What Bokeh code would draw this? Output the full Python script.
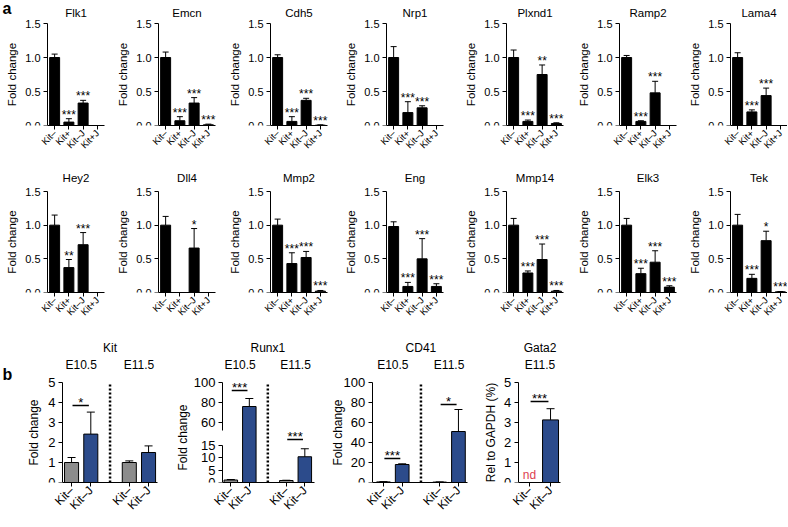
import math
from bokeh.plotting import figure
from bokeh.models import (Range1d, FixedTicker, NumeralTickFormatter, Whisker, TeeHead,
                          ColumnDataSource, LinearAxis)
from bokeh.layouts import row, column
from bokeh.embed import file_html
from bokeh.resources import INLINE
from bokeh.core.properties import value

FONT = "Liberation Sans"

# ---------------- panel a data ----------------
cats_a = ["Kit–", "Kit+", "Kit–J", "Kit+J"]
ticks_a = [0.0, 0.5, 1.0, 1.5]

genes_row1 = ["Flk1", "Emcn", "Cdh5", "Nrp1", "Plxnd1", "Ramp2", "Lama4"]
genes_row2 = ["Hey2", "Dll4", "Mmp2", "Eng", "Mmp14", "Elk3", "Tek"]

flk1_mean = [1.00, 0.05, 0.33, 0.00]
flk1_err = [0.05, 0.05, 0.04, 0.00]
flk1_sig = ["", "***", "***", ""]

emcn_mean = [1.00, 0.07, 0.33, 0.01]
emcn_err = [0.08, 0.06, 0.08, 0.01]
emcn_sig = ["", "***", "***", "***"]

cdh5_mean = [1.00, 0.06, 0.37, 0.005]
cdh5_err = [0.04, 0.07, 0.03, 0.005]
cdh5_sig = ["", "***", "***", "***"]

nrp1_mean = [1.00, 0.19, 0.26, 0.00]
nrp1_err = [0.16, 0.16, 0.03, 0.00]
nrp1_sig = ["", "***", "***", ""]

plxnd1_mean = [1.00, 0.06, 0.75, 0.03]
plxnd1_err = [0.11, 0.02, 0.14, 0.01]
plxnd1_sig = ["", "***", "**", "***"]

ramp2_mean = [1.00, 0.06, 0.48, 0.00]
ramp2_err = [0.03, 0.01, 0.17, 0.00]
ramp2_sig = ["", "***", "***", ""]

lama4_mean = [1.00, 0.20, 0.44, 0.00]
lama4_err = [0.07, 0.03, 0.11, 0.00]
lama4_sig = ["", "***", "***", ""]

hey2_mean = [1.00, 0.37, 0.71, 0.00]
hey2_err = [0.15, 0.12, 0.18, 0.00]
hey2_sig = ["", "**", "***", ""]

dll4_mean = [1.00, 0.00, 0.66, 0.00]
dll4_err = [0.13, 0.00, 0.29, 0.00]
dll4_sig = ["", "", "*", ""]

mmp2_mean = [1.00, 0.43, 0.52, 0.02]
mmp2_err = [0.09, 0.16, 0.09, 0.01]
mmp2_sig = ["", "***", "***", "***"]

eng_mean = [0.98, 0.09, 0.50, 0.09]
eng_err = [0.07, 0.06, 0.30, 0.04]
eng_sig = ["", "***", "***", "***"]

mmp14_mean = [1.00, 0.29, 0.49, 0.02]
mmp14_err = [0.10, 0.03, 0.23, 0.01]
mmp14_sig = ["", "***", "***", "***"]

elk3_mean = [1.00, 0.28, 0.45, 0.08]
elk3_err = [0.10, 0.08, 0.17, 0.02]
elk3_sig = ["", "***", "***", "***"]

tek_mean = [1.00, 0.21, 0.77, 0.01]
tek_err = [0.16, 0.06, 0.14, 0.005]
tek_sig = ["", "***", "*", "***"]

# ---------------- panel b data ----------------
b_groups = ["E10.5", "E11.5"]

kit_x = [1, 2, 4, 5]
kit_labels = ["Kit–", "Kit–J", "Kit–", "Kit–J"]
kit_mean = [1.0, 2.42, 1.0, 1.5]
kit_err = [0.25, 1.1, 0.08, 0.33]
kit_ticks = [0, 1, 2, 3, 4, 5]
kit_sig_left = [1]
kit_sig_right = [2]
kit_sig_y = [3.85]
kit_sig_text = ["*"]

runx1_x = [1, 2, 4, 5]
runx1_labels = ["Kit–", "Kit–J", "Kit–", "Kit–J"]
runx1_mean = [1.0, 76.0, 0.8, 10.3]
runx1_err = [0.2, 8.0, 0.1, 3.2]
runx1_ticks_low = [0, 5, 10, 15]
runx1_ticks_high = [60, 80, 100]
runx1_break = (15, 52)
runx1_sig_left = [1, 4]
runx1_sig_right = [2, 5]
runx1_sig_y = [92.0, 17.2]
runx1_sig_text = ["***", "***"]

cd41_x = [1, 2, 4, 5]
cd41_labels = ["Kit–", "Kit–J", "Kit–", "Kit–J"]
cd41_mean = [0.6, 18.0, 0.4, 51.0]
cd41_err = [0.3, 0.7, 0.2, 22.0]
cd41_ticks = [0, 20, 40, 60, 80, 100]
cd41_sig_left = [1, 4]
cd41_sig_right = [2, 5]
cd41_sig_y = [24.0, 78.0]
cd41_sig_text = ["***", "*"]

gata2_x = [1, 2]
gata2_labels = ["Kit–", "Kit–J"]
gata2_mean = [0.0, 3.13]
gata2_err = [0.0, 0.56]
gata2_nd = ["nd", ""]
gata2_ticks = [0, 1, 2, 3, 4, 5]
gata2_sig_left = [1]
gata2_sig_right = [2]
gata2_sig_y = [4.05]
gata2_sig_text = ["***"]

GRAY = "#8c8c8c"
BLUE = "#2c4b8b"
ND_RED = "#dd4150"


# ---------------- helpers ----------------
def make_fig(width, height, bottom, axis_px, axis_val, px_x, px_y):
    """Frame covers the whole figure except the bottom axis band; the y axis is
    pinned at axis_val so there is room for titles and labels inside the frame."""
    x_start = axis_val - axis_px / px_x
    p = figure(width=width, height=height, title=None,
               x_range=Range1d(x_start, x_start + width / px_x),
               y_range=Range1d(0, (height - bottom) / px_y),
               output_backend="svg", toolbar_location=None,
               min_border_left=0, min_border_right=0, min_border_top=0,
               min_border_bottom=bottom)
    p.outline_line_color = None
    p.xgrid.visible = False
    p.ygrid.visible = False
    p.background_fill_color = "white"
    p.border_fill_color = "white"
    return p, x_start


def style_axis(ax, size):
    ax.major_label_text_font = FONT
    ax.major_label_text_font_size = size
    ax.major_label_text_color = "black"
    ax.major_tick_out = 4
    ax.major_tick_in = 0
    ax.minor_tick_line_color = None
    ax.axis_line_color = "black"
    ax.major_tick_line_color = "black"


def set_x(p, xs, labels, size, bounds):
    ax = p.xaxis[0]
    ax.ticker = FixedTicker(ticks=xs)
    ax.major_label_overrides = {x: l for x, l in zip(xs, labels)}
    ax.major_label_orientation = math.pi / 4
    ax.major_label_standoff = 2
    style_axis(ax, size)
    ax.bounds = bounds


def set_y(ax, ticks, fmt, size, loc, bounds=None):
    ax.ticker = FixedTicker(ticks=ticks)
    ax.formatter = NumeralTickFormatter(format=fmt)
    ax.major_label_standoff = 3
    style_axis(ax, size)
    ax.bounds = bounds if bounds is not None else (ticks[0], ticks[-1])
    ax.fixed_location = loc


def add_whiskers(p, xs, mean, err, head, range_name="default"):
    keep = [i for i in range(len(xs)) if err[i] > 0]
    if not keep:
        return
    src = ColumnDataSource(dict(base=[xs[i] for i in keep],
                                lower=[mean[i] for i in keep],
                                upper=[mean[i] + err[i] for i in keep]))
    w = Whisker(source=src, base="base", lower="lower", upper="upper", dimension="height",
                line_color="black", line_width=1, y_range_name=range_name,
                upper_head=TeeHead(size=head, line_color="black", line_width=1),
                lower_head=None, level="glyph")
    p.add_layout(w)


def add_text(p, xs, ys, texts, size, align="center", style="normal", color="black",
             baseline="middle", range_name="default", angle=0.0):
    p.text(x=xs, y=ys, text=texts, text_font=value(FONT), text_font_size=size,
           text_align=align, text_baseline=baseline, text_font_style=style,
           text_color=color, y_range_name=range_name, angle=angle)


# ---------------- panel a ----------------
A_PX_X = 14.25
A_AXES = [47, 158, 270, 386, 506, 619, 730]
A_STARTS = [0, 116, 228, 344, 464, 577, 688, 787]


def panel_a(name, mean, err, sig, i, height, bottom, px_y, title_px, tag=None):
    width = A_STARTS[i + 1] - A_STARTS[i]
    axis_px = A_AXES[i] - A_STARTS[i]
    xs = list(range(1, len(cats_a) + 1))
    p, x_start = make_fig(width, height, bottom, axis_px, 0.5, A_PX_X, px_y)
    set_x(p, xs, cats_a, "9.5px", (0.5, len(cats_a) + 0.5))
    set_y(p.yaxis[0], ticks_a, "0.0", "11px", 0.5)
    bx = [x for x, m in zip(xs, mean) if m > 0]
    bt = [m for m in mean if m > 0]
    p.vbar(x=bx, top=bt, bottom=0, width=0.7, fill_color="black",
           line_color="black", line_width=1)
    add_whiskers(p, xs, mean, err, head=6)
    sx = [x for x, s in zip(xs, sig) if s]
    sy = [m + e + 4 / px_y for m, e, s in zip(mean, err, sig) if s]
    st = [s for s in sig if s]
    if st:
        add_text(p, sx, sy, st, "12px")
    top = ticks_a[-1]
    add_text(p, [(xs[0] + xs[-1]) / 2], [top + title_px / px_y], [name], "11.5px")
    add_text(p, [0.5 - 36 / A_PX_X], [(ticks_a[0] + top) / 2], ["Fold change"], "11.5px",
             angle=math.pi / 2)
    if tag:
        add_text(p, [x_start + 2 / A_PX_X], [top + 15 / px_y], [tag], "16px",
                 align="left", style="bold")
    return p


row1_data = [(flk1_mean, flk1_err, flk1_sig), (emcn_mean, emcn_err, emcn_sig),
             (cdh5_mean, cdh5_err, cdh5_sig), (nrp1_mean, nrp1_err, nrp1_sig),
             (plxnd1_mean, plxnd1_err, plxnd1_sig), (ramp2_mean, ramp2_err, ramp2_sig),
             (lama4_mean, lama4_err, lama4_sig)]
row2_data = [(hey2_mean, hey2_err, hey2_sig), (dll4_mean, dll4_err, dll4_sig),
             (mmp2_mean, mmp2_err, mmp2_sig), (eng_mean, eng_err, eng_sig),
             (mmp14_mean, mmp14_err, mmp14_sig), (elk3_mean, elk3_err, elk3_sig),
             (tek_mean, tek_err, tek_sig)]

row1_figs = [panel_a(g, m, e, s, i, 158, 33, 102 / 1.5, 11, tag="a" if i == 0 else None)
             for i, (g, (m, e, s)) in enumerate(zip(genes_row1, row1_data))]
row2_figs = [panel_a(g, m, e, s, i, 172, 38, 101 / 1.5, 14)
             for i, (g, (m, e, s)) in enumerate(zip(genes_row2, row2_data))]

# ---------------- panel b ----------------
B_H, B_BOTTOM = 196, 44


def colors_for(labels):
    return [GRAY if l == "Kit–" else BLUE for l in labels]


def b_bars(p, xs, labels, mean, idx=None, bw=0.73, range_name="default"):
    cols = colors_for(labels)
    keep = [i for i in range(len(xs)) if mean[i] > 0 and (idx is None or i in idx)]
    if not keep:
        return
    p.vbar(x=[xs[i] for i in keep], top=[mean[i] for i in keep], bottom=0, width=bw,
           fill_color=[cols[i] for i in keep], line_color="black", line_width=1,
           y_range_name=range_name)


def b_sig(p, left, right, ys, texts, px_y, range_name="default"):
    if not ys:
        return
    x0 = [l + 0.05 for l in left]
    x1 = [r - 0.1 for r in right]
    p.segment(x0=x0, x1=x1, y0=ys, y1=ys, line_color="black", line_width=1.5,
              y_range_name=range_name)
    add_text(p, [(a + b) / 2 for a, b in zip(x0, x1)], [y + 3 / px_y for y in ys], texts,
             "13px", range_name=range_name)


def divider(p, top, range_name="default"):
    p.segment(x0=[3], x1=[3], y0=[0], y1=[top], line_color="black", line_width=2.5,
              line_dash="2 2", y_range_name=range_name)


def b_titles(p, name, groups, top, px_y, xc, xg, range_name="default"):
    add_text(p, [xc], [top + 35 / px_y], [name], "12px", range_name=range_name)
    add_text(p, xg, [top + 18 / px_y] * len(xg), groups, "12px", range_name=range_name)


def y_label(p, text, axis_val, px_x, gap_px, y_mid, range_name="default"):
    add_text(p, [axis_val - gap_px / px_x], [y_mid], [text], "12px", angle=math.pi / 2,
             range_name=range_name)


# Kit
KIT_PX_X, KIT_PX_Y, KIT_AX = 19.25, 20.0, 0.53
kit, kit_x0 = make_fig(174, B_H, B_BOTTOM, 62, KIT_AX, KIT_PX_X, KIT_PX_Y)
set_x(kit, kit_x, kit_labels, "12px", (KIT_AX, 5.46))
set_y(kit.yaxis[0], kit_ticks, "0", "13px", KIT_AX)
divider(kit, kit_ticks[-1])
b_bars(kit, kit_x, kit_labels, kit_mean)
add_whiskers(kit, kit_x, kit_mean, kit_err, head=8)
b_sig(kit, kit_sig_left, kit_sig_right, kit_sig_y, kit_sig_text, KIT_PX_Y)
b_titles(kit, "Kit", b_groups, kit_ticks[-1], KIT_PX_Y, 3, [1.5, 4.5])
y_label(kit, "Fold change", KIT_AX, KIT_PX_X, 29, kit_ticks[-1] / 2)
add_text(kit, [kit_x0 + 2 / KIT_PX_X], [kit_ticks[-1] + 8 / KIT_PX_Y], ["b"], "16px",
         align="left", style="bold")

# Runx1: broken axis, lower segment on the main range, upper segment on an extra range
RX_PX_X, RX_AX = 18.5, 0.55
RX_LO_PX, RX_HI_PX = 2.5, 1.0
runx, rx_x0 = make_fig(155, B_H, B_BOTTOM, 48, RX_AX, RX_PX_X, RX_LO_PX)
runx.extra_y_ranges = {"hi": Range1d(0, (B_H - B_BOTTOM) / RX_HI_PX)}
set_x(runx, runx1_x, runx1_labels, "12px", (RX_AX, 5.5))
set_y(runx.yaxis[0], runx1_ticks_low, "0", "13px", RX_AX, bounds=(0, runx1_break[0]))
hi_axis = LinearAxis(y_range_name="hi")
set_y(hi_axis, runx1_ticks_high, "0", "13px", RX_AX,
      bounds=(runx1_break[1], runx1_ticks_high[-1]))
runx.add_layout(hi_axis, "left")
divider(runx, runx1_ticks_high[-1], "hi")
hi_idx = [i for i in range(4) if runx1_mean[i] > runx1_break[1]]
lo_idx = [i for i in range(4) if i not in hi_idx]
b_bars(runx, runx1_x, runx1_labels, runx1_mean, idx=lo_idx)
b_bars(runx, runx1_x, runx1_labels, runx1_mean, idx=hi_idx, range_name="hi")
add_whiskers(runx, [runx1_x[i] for i in lo_idx], [runx1_mean[i] for i in lo_idx],
             [runx1_err[i] for i in lo_idx], head=8)
add_whiskers(runx, [runx1_x[i] for i in hi_idx], [runx1_mean[i] for i in hi_idx],
             [runx1_err[i] for i in hi_idx], head=8, range_name="hi")
shi = [i for i in range(len(runx1_sig_y)) if runx1_sig_y[i] > runx1_break[1]]
slo = [i for i in range(len(runx1_sig_y)) if i not in shi]
b_sig(runx, [runx1_sig_left[i] for i in slo], [runx1_sig_right[i] for i in slo],
      [runx1_sig_y[i] for i in slo], [runx1_sig_text[i] for i in slo], RX_LO_PX)
b_sig(runx, [runx1_sig_left[i] for i in shi], [runx1_sig_right[i] for i in shi],
      [runx1_sig_y[i] for i in shi], [runx1_sig_text[i] for i in shi], RX_HI_PX, "hi")
b_titles(runx, "Runx1", b_groups, runx1_ticks_high[-1], RX_HI_PX, 3, [1.5, 4.5], "hi")
y_label(runx, "Fold change", RX_AX, RX_PX_X, 39.5, 45 / RX_HI_PX, "hi")

# CD41
CD_PX_X, CD_PX_Y, CD_AX = 18.75, 1.0, 0.4
cd41, cd_x0 = make_fig(149, B_H, B_BOTTOM, 42.7, CD_AX, CD_PX_X, CD_PX_Y)
set_x(cd41, cd41_x, cd41_labels, "12px", (CD_AX, 5.48))
set_y(cd41.yaxis[0], cd41_ticks, "0", "13px", CD_AX)
divider(cd41, cd41_ticks[-1])
b_bars(cd41, cd41_x, cd41_labels, cd41_mean)
add_whiskers(cd41, cd41_x, cd41_mean, cd41_err, head=8)
b_sig(cd41, cd41_sig_left, cd41_sig_right, cd41_sig_y, cd41_sig_text, CD_PX_Y)
b_titles(cd41, "CD41", b_groups, cd41_ticks[-1], CD_PX_Y, 3, [1.5, 4.5])
y_label(cd41, "Fold change", CD_AX, CD_PX_X, 34.5, cd41_ticks[-1] / 2)

# Gata2
G_PX_X, G_PX_Y, G_AX = 21.0, 20.0, 0.46
gata2, g_x0 = make_fig(92, B_H, B_BOTTOM, 39.7, G_AX, G_PX_X, G_PX_Y)
set_x(gata2, gata2_x, gata2_labels, "12px", (G_AX, 2.47))
set_y(gata2.yaxis[0], gata2_ticks, "0", "13px", G_AX)
b_bars(gata2, gata2_x, gata2_labels, gata2_mean, bw=0.76)
add_whiskers(gata2, gata2_x, gata2_mean, gata2_err, head=8)
b_sig(gata2, gata2_sig_left, gata2_sig_right, gata2_sig_y, gata2_sig_text, G_PX_Y)
nd_x = [x for x, t in zip(gata2_x, gata2_nd) if t]
nd_t = [t for t in gata2_nd if t]
add_text(gata2, nd_x, [1.0 / G_PX_Y] * len(nd_x), nd_t, "12px", color=ND_RED,
         baseline="bottom")
b_titles(gata2, "Gata2", [b_groups[1]], gata2_ticks[-1], G_PX_Y, 1.5, [1.5])
y_label(gata2, "Rel to GAPDH (%)", G_AX, G_PX_X, 27.7, gata2_ticks[-1] / 2)

layout = column(
    row(*row1_figs, spacing=0),
    row(*row2_figs, spacing=0),
    row(kit, runx, cd41, gata2, spacing=0),
    spacing=0,
)

open("out.html", "w").write(file_html(layout, INLINE))
